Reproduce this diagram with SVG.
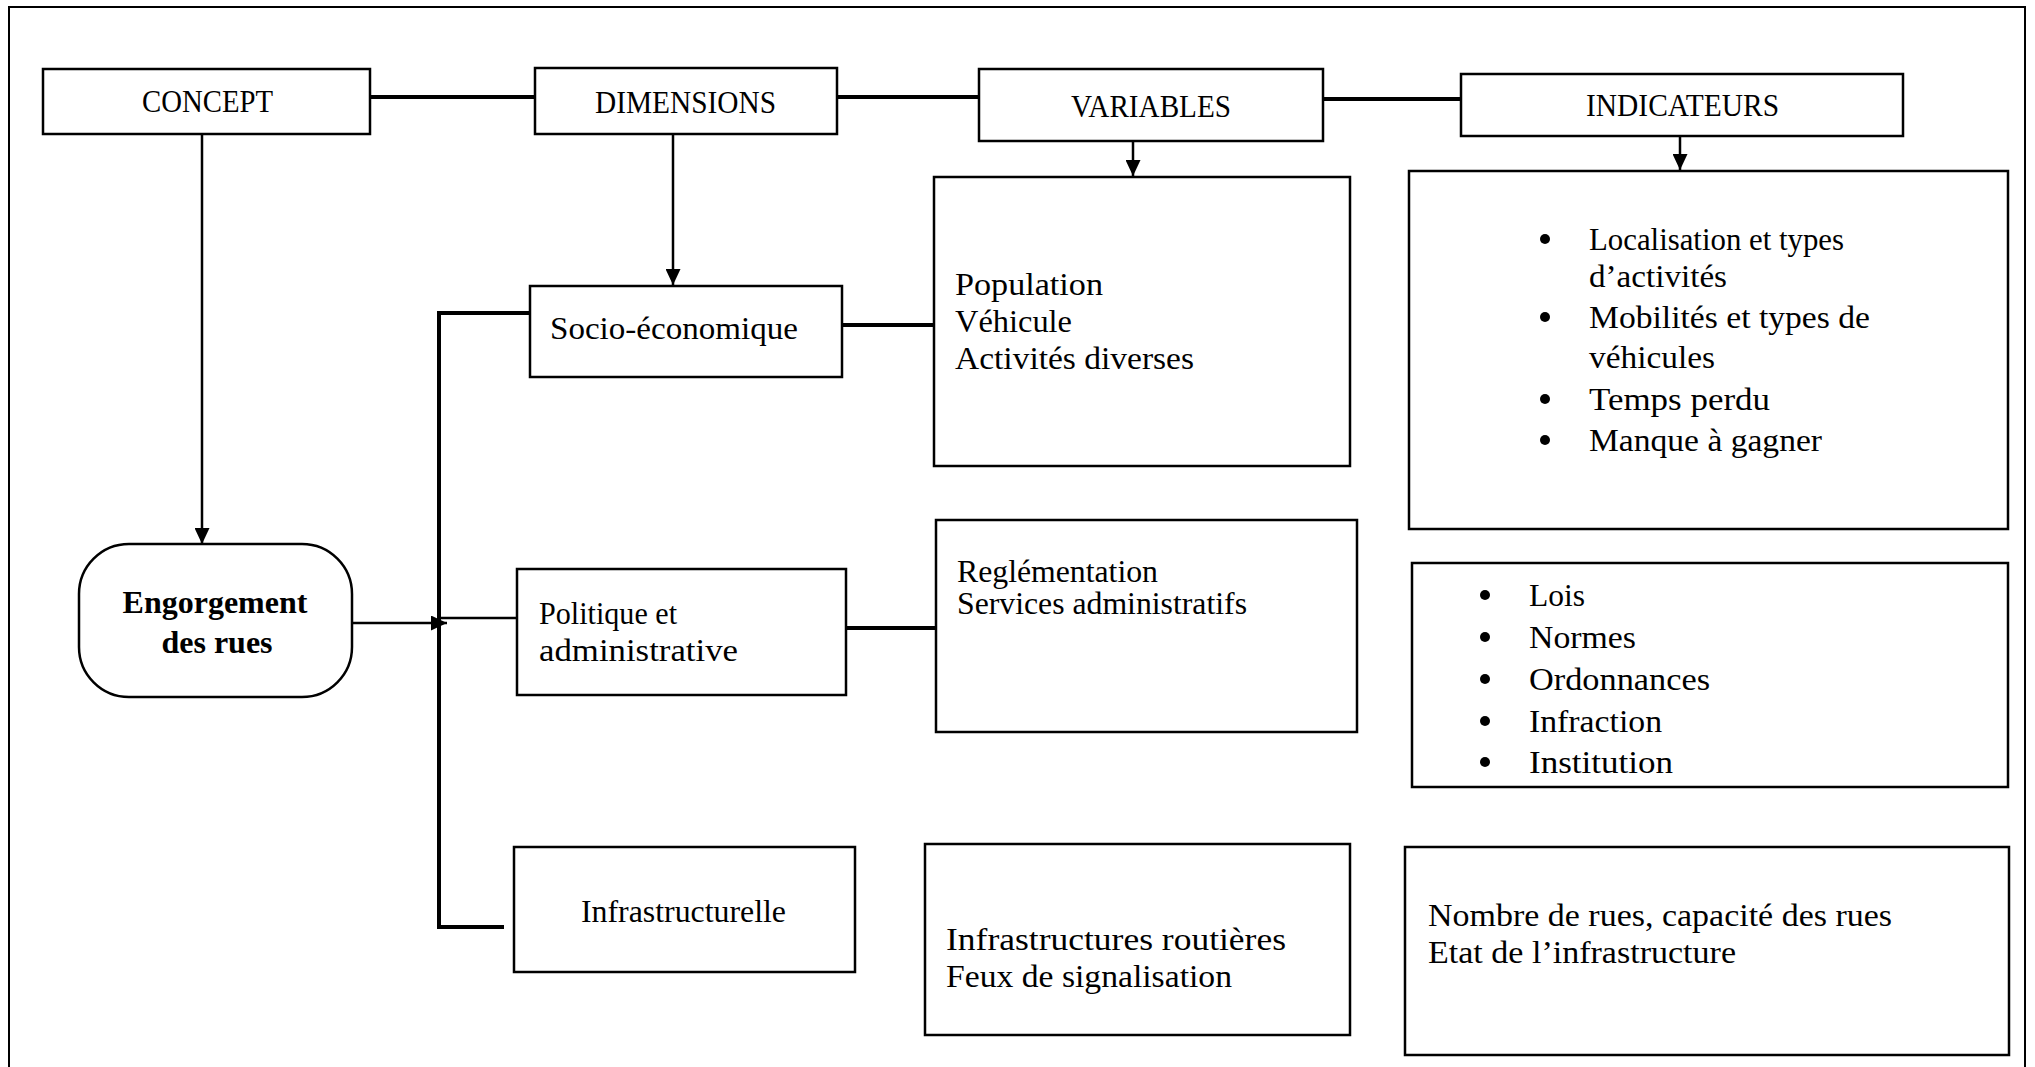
<svg xmlns="http://www.w3.org/2000/svg" width="2035" height="1067" viewBox="0 0 2035 1067">
<style>
.box{fill:#fff;stroke:#000;stroke-width:2.5}
.t{font-family:"Liberation Serif","Times New Roman",serif;font-size:32px;fill:#000}
.tm{font-size:30.5px}
.b{font-weight:bold;font-size:32px}
.thick{stroke:#000;stroke-width:4;fill:none}
.thin{stroke:#000;stroke-width:2.5;fill:none}
</style>
<defs>
<marker id="ah" markerWidth="16" markerHeight="15" refX="16" refY="7.5" orient="auto" markerUnits="userSpaceOnUse">
<path d="M0,0 L16,7.5 L0,15 Z" fill="#000"/>
</marker>
</defs>
<rect width="2035" height="1067" fill="#fff"/>
<rect x="9" y="7" width="2016" height="1080" fill="none" stroke="#000" stroke-width="2"/>

<g id="connectors">
<line class="thick" x1="370" y1="97" x2="535" y2="97"/>
<line class="thick" x1="837" y1="97" x2="979" y2="97"/>
<line class="thick" x1="1323" y1="99" x2="1461" y2="99"/>
<line class="thin" x1="202" y1="128" x2="202" y2="544" marker-end="url(#ah)"/>
<line class="thin" x1="673" y1="128" x2="673" y2="285" marker-end="url(#ah)"/>
<line class="thin" x1="1133" y1="137" x2="1133" y2="176" marker-end="url(#ah)"/>
<line class="thin" x1="1680" y1="137" x2="1680" y2="170" marker-end="url(#ah)"/>
<polyline class="thick" points="535,313 439,313 439,927 504,927"/>
<line class="thin" x1="352" y1="623" x2="447" y2="623" marker-end="url(#ah)"/>
<line class="thin" x1="441" y1="618" x2="521" y2="618"/>
<line class="thick" x1="842" y1="325" x2="934" y2="325"/>
<line class="thick" x1="846" y1="628" x2="936" y2="628"/>
</g>

<g id="concept">
<rect class="box" x="43" y="69" width="327" height="65"/>
<text class="t" x="142" y="112" textLength="131" lengthAdjust="spacingAndGlyphs">CONCEPT</text>
</g>
<g id="dimensions">
<rect class="box" x="535" y="68" width="302" height="66"/>
<text class="t" x="595" y="113" textLength="181" lengthAdjust="spacingAndGlyphs">DIMENSIONS</text>
</g>
<g id="variables">
<rect class="box" x="979" y="69" width="344" height="72"/>
<text class="t" x="1071" y="117" textLength="160" lengthAdjust="spacingAndGlyphs">VARIABLES</text>
</g>
<g id="indicateurs">
<rect class="box" x="1461" y="74" width="442" height="62"/>
<text class="t" x="1586" y="116" textLength="193" lengthAdjust="spacingAndGlyphs">INDICATEURS</text>
</g>

<g id="engorgement">
<rect class="box" x="79" y="544" width="273" height="153" rx="50" ry="50"/>
<text class="t b" x="215" y="613" text-anchor="middle">Engorgement</text>
<text class="t b" x="217" y="653" text-anchor="middle">des rues</text>
</g>

<g id="socio">
<rect class="box" x="530" y="286" width="312" height="91"/>
<text class="t" x="550" y="339" textLength="248" lengthAdjust="spacingAndGlyphs">Socio-économique</text>
</g>
<g id="politique">
<rect class="box" x="517" y="569" width="329" height="126"/>
<text class="t" x="539" y="624" textLength="138" lengthAdjust="spacingAndGlyphs">Politique et</text>
<text class="t" x="539" y="661" textLength="199" lengthAdjust="spacingAndGlyphs">administrative</text>
</g>
<g id="infrastructurelle">
<rect class="box" x="514" y="847" width="341" height="125"/>
<text class="t tm" x="581" y="922" textLength="205" lengthAdjust="spacingAndGlyphs">Infrastructurelle</text>
</g>

<g id="var1">
<rect class="box" x="934" y="177" width="416" height="289"/>
<text class="t" x="955" y="295" textLength="148" lengthAdjust="spacingAndGlyphs">Population</text>
<text class="t" x="955" y="332" textLength="117" lengthAdjust="spacingAndGlyphs">Véhicule</text>
<text class="t" x="955" y="369" textLength="239" lengthAdjust="spacingAndGlyphs">Activités diverses</text>
</g>
<g id="var2">
<rect class="box" x="936" y="520" width="421" height="212"/>
<text class="t tm" x="957" y="582" textLength="201" lengthAdjust="spacingAndGlyphs">Reglémentation</text>
<text class="t tm" x="957" y="614" textLength="290" lengthAdjust="spacingAndGlyphs">Services administratifs</text>
</g>
<g id="var3">
<rect class="box" x="925" y="844" width="425" height="191"/>
<text class="t" x="946" y="950" textLength="340" lengthAdjust="spacingAndGlyphs">Infrastructures routières</text>
<text class="t" x="946" y="987" textLength="286" lengthAdjust="spacingAndGlyphs">Feux de signalisation</text>
</g>

<g id="ind1">
<rect class="box" x="1409" y="171" width="599" height="358"/>
<circle cx="1545" cy="239" r="5"/>
<text class="t" x="1589" y="250" textLength="255" lengthAdjust="spacingAndGlyphs">Localisation et types</text>
<text class="t" x="1589" y="287" textLength="138" lengthAdjust="spacingAndGlyphs">d’activités</text>
<circle cx="1545" cy="317" r="5"/>
<text class="t" x="1589" y="328" textLength="281" lengthAdjust="spacingAndGlyphs">Mobilités et types de</text>
<text class="t" x="1589" y="368" textLength="126" lengthAdjust="spacingAndGlyphs">véhicules</text>
<circle cx="1545" cy="399" r="5"/>
<text class="t" x="1589" y="410" textLength="181" lengthAdjust="spacingAndGlyphs">Temps perdu</text>
<circle cx="1545" cy="440" r="5"/>
<text class="t" x="1589" y="451" textLength="233" lengthAdjust="spacingAndGlyphs">Manque à gagner</text>
</g>
<g id="ind2">
<rect class="box" x="1412" y="563" width="596" height="224"/>
<circle cx="1485" cy="595" r="5"/>
<text class="t" x="1529" y="606" textLength="56" lengthAdjust="spacingAndGlyphs">Lois</text>
<circle cx="1485" cy="637" r="5"/>
<text class="t" x="1529" y="648" textLength="107" lengthAdjust="spacingAndGlyphs">Normes</text>
<circle cx="1485" cy="679" r="5"/>
<text class="t" x="1529" y="690" textLength="181" lengthAdjust="spacingAndGlyphs">Ordonnances</text>
<circle cx="1485" cy="721" r="5"/>
<text class="t" x="1529" y="732" textLength="133" lengthAdjust="spacingAndGlyphs">Infraction</text>
<circle cx="1485" cy="762" r="5"/>
<text class="t" x="1529" y="773" textLength="144" lengthAdjust="spacingAndGlyphs">Institution</text>
</g>
<g id="ind3">
<rect class="box" x="1405" y="847" width="604" height="208"/>
<text class="t" x="1428" y="926" textLength="464" lengthAdjust="spacingAndGlyphs">Nombre de rues, capacité des rues</text>
<text class="t" x="1428" y="963" textLength="308" lengthAdjust="spacingAndGlyphs">Etat de l’infrastructure</text>
</g>
</svg>
